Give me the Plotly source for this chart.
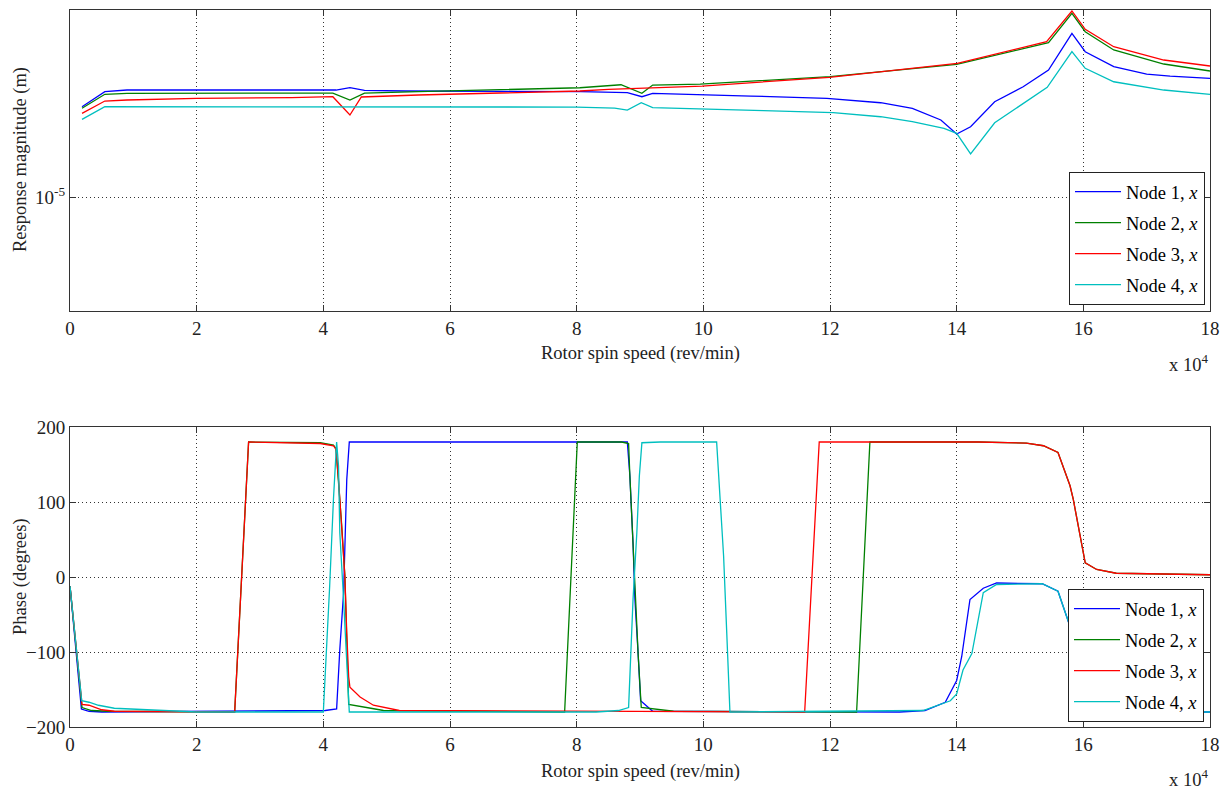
import plotly.graph_objects as go

# ---------------- data ----------------
node_names = ["Node 1, <i>x</i>", "Node 2, <i>x</i>", "Node 3, <i>x</i>", "Node 4, <i>x</i>"]
colors = ["#0000FF", "#008000", "#FF0000", "#00BFBF"]

# Response magnitude (m) vs rotor spin speed (rev/min)
mag_x_node1 = [1900, 5500, 9000, 42000, 44200, 46500, 53000, 80600, 88000, 90300, 92000, 97500, 107500,
               119500, 128000, 133000, 137500, 140000, 142200, 146000, 150500, 154500, 158200, 160300,
               164800, 170000, 173700, 180000]
mag_node1 = [1.995e-5, 2.238e-5, 2.267e-5, 2.267e-5, 2.307e-5, 2.26e-5, 2.25e-5, 2.238e-5, 2.221e-5,
             2.154e-5, 2.211e-5, 2.199e-5, 2.165e-5, 2.128e-5, 2.057e-5, 1.971e-5, 1.803e-5, 1.619e-5,
             1.712e-5, 2.073e-5, 2.325e-5, 2.642e-5, 3.498e-5, 3.039e-5, 2.710e-5, 2.562e-5, 2.523e-5,
             2.479e-5]

mag_x_node2 = [1900, 5500, 9000, 41500, 44200, 46500, 55000, 80500, 87000, 90300, 92000, 99500, 120000,
               140000, 154500, 158200, 160300, 164800, 172700, 180000]
mag_node2 = [1.971e-5, 2.194e-5, 2.211e-5, 2.215e-5, 2.100e-5, 2.215e-5, 2.238e-5, 2.307e-5, 2.360e-5,
             2.211e-5, 2.355e-5, 2.373e-5, 2.510e-5, 2.760e-5, 3.256e-5, 4.077e-5, 3.541e-5, 3.079e-5,
             2.766e-5, 2.622e-5]

mag_x_node3 = [1900, 5500, 9000, 20000, 35000, 41500, 44200, 46000, 55000, 80500, 85000, 90500, 99800,
               119900, 140100, 154200, 158200, 160300, 164800, 172700, 180000]
mag_node3 = [1.897e-5, 2.084e-5, 2.100e-5, 2.128e-5, 2.138e-5, 2.154e-5, 1.873e-5, 2.149e-5, 2.182e-5,
             2.250e-5, 2.279e-5, 2.296e-5, 2.337e-5, 2.498e-5, 2.781e-5, 3.281e-5, 4.150e-5, 3.607e-5,
             3.158e-5, 2.852e-5, 2.724e-5]

mag_x_node4 = [1900, 5500, 80000, 86000, 88000, 90200, 92000, 99500, 109500, 120500, 128000, 133000,
               138000, 140000, 142200, 146000, 154300, 158200, 160300, 164800, 172700, 180000]
mag_node4 = [1.812e-5, 1.995e-5, 1.990e-5, 1.975e-5, 1.945e-5, 2.057e-5, 1.980e-5, 1.956e-5, 1.935e-5,
             1.906e-5, 1.848e-5, 1.779e-5, 1.691e-5, 1.627e-5, 1.390e-5, 1.765e-5, 2.314e-5, 3.039e-5,
             2.677e-5, 2.415e-5, 2.267e-5, 2.194e-5]

# Phase (degrees) vs rotor spin speed (rev/min)
ph_x_node1 = [0, 1800, 3000, 5000, 40300, 42100, 42600, 43200, 43700, 44100, 88000, 88400, 88900, 89200,
              89700, 90100, 92000, 131000, 135000, 138200, 140000, 140800, 142100, 144200, 146300, 151000,
              153500, 156000, 157900, 159000, 160200, 180000]
ph_node1 = [-12, -176, -179, -180, -178, -176, -97, -21, 130, 180, 180, 135, 45, -30, -102, -165, -179,
            -180, -178, -167, -138, -106, -30, -15, -8, -8, -9, -19, -66, -140, -180, -180]

ph_x_node2 = [0, 1900, 3400, 6000, 26000, 28200, 39500, 41600, 42000, 42400, 42900, 43400, 43700, 44000,
              47500, 49500, 78100, 80100, 87100, 88200, 88400, 88900, 89200, 89700, 90100, 90200, 95300,
              124200, 126300, 143400, 151000, 153700, 156000, 157900, 158400, 160300, 162100, 165200, 180000]
ph_node2 = [-12, -174, -178, -179, -180, 180, 179, 176, 171, 131, 69, 2, -74, -170, -175, -178, -180, 180,
            180, 178, 135, 45, -30, -102, -160, -174, -179, -180, 180, 180, 178.5, 175, 166, 121.6, 104,
            19, 10, 5, 3]

ph_x_node3 = [0, 1900, 3000, 5000, 7000, 26000, 28200, 39500, 41600, 42000, 42400, 42900, 43400, 43700,
              44000, 44200, 45800, 47900, 52000, 116000, 118300, 143400, 151000, 153700, 156000, 157900,
              158400, 160300, 162100, 165200, 180000]
ph_node3 = [-12, -170, -171, -177, -179, -180, 180, 178, 175, 170, 130, 68, 1, -75, -133, -147, -160, -171,
            -178, -180, 180, 180, 178.5, 175, 166, 121.6, 104, 19, 10, 5, 3]

ph_x_node4 = [0, 1850, 3000, 4500, 7000, 13000, 20000, 40000, 40500, 41000, 41600, 42100, 42400, 42600,
              43200, 43700, 44100, 83100, 86600, 88200, 88400, 88900, 89500, 89900, 90300, 93200, 102100,
              102600, 103200, 103700, 104200, 134700, 139000, 140000, 141000, 142400, 143200, 144200,
              146300, 153500, 156000, 157900, 159000, 160200, 180000]
ph_node4 = [-12, -165, -167, -171, -175, -177, -180, -180, -102, -12, 104, 180, 148, 59, -30, -111, -180,
            -180, -178, -174, -133, -30, 59, 135, 179, 180, 180, 104, 28, -75, -180, -178, -165, -156, -124,
            -102, -66, -21, -10, -9, -19, -66, -140, -180, -180]

x_tick_vals = [0, 20000, 40000, 60000, 80000, 100000, 120000, 140000, 160000, 180000]
x_tick_text = ["0", "2", "4", "6", "8", "10", "12", "14", "16", "18"]
phase_ticks = [-200, -100, 0, 100, 200]
mag_tick_vals = [1e-5]
mag_tick_text = ["10<sup>-5</sup>"]

# ---------------- figure ----------------
FONT = "Liberation Serif"
TXT = "#222222"
mag_x = [mag_x_node1, mag_x_node2, mag_x_node3, mag_x_node4]
mag_y = [mag_node1, mag_node2, mag_node3, mag_node4]
ph_x = [ph_x_node1, ph_x_node2, ph_x_node3, ph_x_node4]
ph_y = [ph_node1, ph_node2, ph_node3, ph_node4]

fig = go.Figure()
for i in range(4):
    fig.add_trace(go.Scatter(x=mag_x[i], y=mag_y[i], mode="lines", name=node_names[i],
                             line=dict(color=colors[i], width=1.3), xaxis="x", yaxis="y",
                             legend="legend", legendgroup="a%d" % i))
for i in range(4):
    fig.add_trace(go.Scatter(x=ph_x[i], y=ph_y[i], mode="lines", name=node_names[i],
                             line=dict(color=colors[i], width=1.3), xaxis="x2", yaxis="y2",
                             legend="legend2", legendgroup="b%d" % i))

common_axis = dict(showline=True, linecolor="#333333", linewidth=1, mirror="allticks",
                   ticks="inside", ticklen=6, tickcolor="#333333", automargin=False,
                   showgrid=True, gridcolor="#333333", gridwidth=1, griddash="1px,3px",
                   zeroline=False, tickfont=dict(family=FONT, size=19, color=TXT))

# the page body has an 8px margin, so the figure is 1222x783 placed at (8, 8)
FIG_W, FIG_H = 1222, 783
L, R, T, B = 62, 20, 2, 64
H = FIG_H - T - B          # 717


def py(pix):
    # screen pixel row -> paper y
    return (727 - pix) / H


legend_common = dict(xanchor="right", yanchor="bottom", bgcolor="white", bordercolor="#222222",
                     borderwidth=1, font=dict(family=FONT, size=18.5, color="black"),
                     tracegroupgap=4, traceorder="grouped", itemwidth=46)

ann_font = dict(family=FONT, size=18.5, color=TXT)
annotations = [
    dict(text="Rotor spin speed (rev/min)", x=0.5, y=py(353), xanchor="center", yanchor="middle"),
    dict(text="Rotor spin speed (rev/min)", x=0.5, y=py(771), xanchor="center", yanchor="middle"),
    dict(text="x 10<sup>4</sup>", x=1.0, y=py(363), xanchor="right", yanchor="middle"),
    dict(text="x 10<sup>4</sup>", x=1.0, y=py(778), xanchor="right", yanchor="middle"),
    dict(text="Response magnitude (m)", x=0, xshift=-50, y=py(160), xanchor="center", yanchor="middle",
         textangle=-90),
    dict(text="Phase (degrees)", x=0, xshift=-50, y=py(577), xanchor="center", yanchor="middle",
         textangle=-90),
]
for a in annotations:
    a.update(xref="paper", yref="paper", showarrow=False, font=ann_font)

fig.update_layout(
    width=FIG_W, height=FIG_H,
    margin=dict(l=L, r=R, t=T, b=B, autoexpand=False),
    paper_bgcolor="white", plot_bgcolor="white",
    showlegend=True,
    xaxis=dict(domain=[0, 1], anchor="y", range=[0, 180000], tickvals=x_tick_vals, ticktext=x_tick_text,
               **common_axis),
    yaxis=dict(domain=[py(311), py(10)], anchor="x", type="log", range=[-5.3787, -4.3787],
               tickvals=mag_tick_vals, ticktext=mag_tick_text, **common_axis),
    xaxis2=dict(domain=[0, 1], anchor="y2", range=[0, 180000], tickvals=x_tick_vals, ticktext=x_tick_text,
                **common_axis),
    yaxis2=dict(domain=[py(727), py(427)], anchor="x2", range=[-200, 200], tickvals=phase_ticks,
                **common_axis),
    legend=dict(x=(1205 - 70) / 1140, y=py(305), **legend_common),
    legend2=dict(x=(1204 - 70) / 1140, y=py(722), **legend_common),
    annotations=annotations,
)

fig.write_html("out.html")
